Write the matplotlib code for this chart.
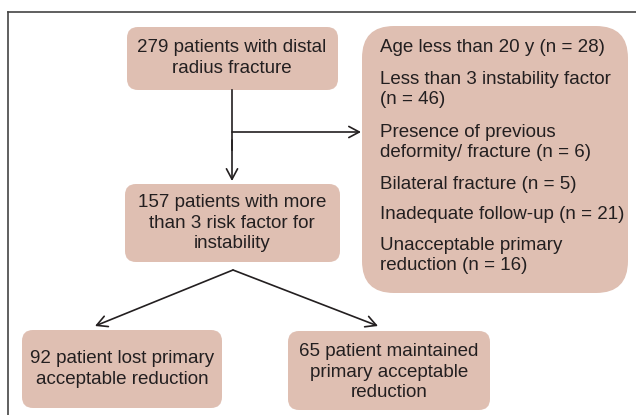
import matplotlib

matplotlib.use("Agg")
import matplotlib.pyplot as plt
from matplotlib.patches import FancyBboxPatch

plt.rcParams["font.family"] = ["Liberation Sans", "DejaVu Sans"]

BOX_COLOR = "#dfbfb2"
TEXT_COLOR = "#231f20"
LINE_COLOR = "#231f20"
FS = 13.5

# flowchart content
top_text = "279 patients with distal\nradius fracture"
middle_text = "157 patients with more\nthan 3 risk factor for\ninstability"
left_text = "92 patient lost primary\nacceptable reduction"
right_text = "65 patient maintained\nprimary acceptable\nreduction"
excluded_items = [
    "Age less than 20 y (n = 28)",
    "Less than 3 instability factor\n(n = 46)",
    "Presence of previous\ndeformity/ fracture (n = 6)",
    "Bilateral fracture (n = 5)",
    "Inadequate follow-up (n = 21)",
    "Unacceptable primary\nreduction (n = 16)",
]

fig = plt.figure(figsize=(6.36, 4.15), dpi=100)
ax = fig.add_axes([0, 0, 1, 1])
ax.set_xlim(0, 636)
ax.set_ylim(415, 0)
ax.axis("off")


def box(x0, y0, x1, y1, pad):
    # pad doubles as the corner radius
    ax.add_patch(FancyBboxPatch(
        (x0 + pad, y0 + pad), x1 - x0 - 2 * pad, y1 - y0 - 2 * pad,
        boxstyle=f"round,pad={pad}", fc=BOX_COLOR, ec="none",
        mutation_aspect=1,
    ))


def label(x, y, s, ha="center", spacing=1.3):
    ax.text(x, y, s, ha=ha, va="center", fontsize=FS, color=TEXT_COLOR,
            linespacing=spacing)


def arrow(x0, y0, x1, y1):
    ax.annotate("", xy=(x1, y1), xytext=(x0, y0),
                arrowprops=dict(arrowstyle="->,head_length=0.75,head_width=0.4",
                                color=LINE_COLOR, lw=1.2,
                                shrinkA=0, shrinkB=0))


# frame (top and left only)
ax.plot([8, 636], [12, 12], color="#444444", lw=1.2)
ax.plot([8, 8], [12, 415], color="#444444", lw=1.2)

box(127, 27, 338, 90, 11)
label(232, 58, top_text)

box(125, 184, 340, 262, 11)
label(232, 223, middle_text, spacing=1.27)

box(362, 26, 628, 293, 32)
y = 48
for item in excluded_items:
    n = item.count("\n") + 1
    label(380, y + 23 * (n - 1) / 2, item, ha="left", spacing=1.22)
    y += 23 * (n - 1) + 30

box(22, 330, 222, 408, 11)
label(122, 369, left_text)

box(288, 331, 490, 410, 11)
label(389, 372, right_text)

# connectors
ax.plot([232, 232], [90, 150], color=LINE_COLOR, lw=1.2)
arrow(232, 132, 361, 132)
arrow(232, 140, 232, 181)
arrow(233, 270, 95, 326)
arrow(233, 270, 378, 326)

fig.savefig("out.png", dpi=100)
